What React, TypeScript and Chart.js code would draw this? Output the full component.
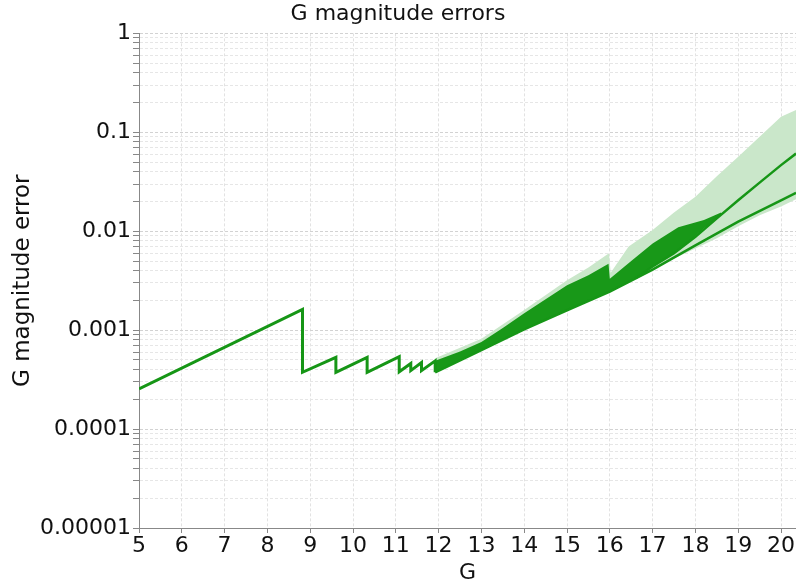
import React, { useEffect, useRef } from "react";
import { Chart, registerables } from "chart.js";

Chart.register(...registerables);

// Bright-star sawtooth (single line of errors vs G)
const sawG = [5, 8.82, 8.82, 9.6, 9.6, 10.33, 10.33, 11.08, 11.08, 11.35, 11.35, 11.6, 11.6, 11.92, 11.92];
const sawErr = [2.55e-4, 1.62e-3, 3.75e-4, 5.3e-4, 3.75e-4, 5.3e-4, 3.75e-4, 5.4e-4, 3.8e-4, 4.6e-4, 3.9e-4, 4.7e-4, 3.9e-4, 4.9e-4, 3.75e-4];

// Lower model curve
const lowerG = [11.92, 13, 14, 15, 16, 17, 18, 19, 20, 20.35];
const lowerErr = [3.75e-4, 6.3e-4, 1.02e-3, 1.59e-3, 2.45e-3, 4.1e-3, 7.2e-3, 0.0125, 0.0205, 0.0245];

// Upper model curve
const upperG = [16.6, 17, 17.5, 18, 18.5, 19, 19.5, 20, 20.35];
const upperErr = [3.35e-3, 4.4e-3, 6.0e-3, 8.8e-3, 0.0135, 0.0206, 0.031, 0.0466, 0.061];

// Dense (dark) scatter envelope
const darkG = [11.92, 12.5, 13, 13.5, 14, 14.5, 15, 15.5, 15.97, 16.0, 16.5, 17, 17.6, 18.2, 18.6];
const darkTop = [4.9e-4, 6.1e-4, 7.6e-4, 1.05e-3, 1.48e-3, 2.05e-3, 2.85e-3, 3.6e-3, 4.7e-3, 3.3e-3, 5.0e-3, 7.5e-3, 0.011, 0.013, 0.0155];
const darkBottom = [3.75e-4, 4.9e-4, 6.3e-4, 8.0e-4, 1.02e-3, 1.27e-3, 1.59e-3, 1.97e-3, 2.4e-3, 2.45e-3, 3.2e-3, 4.4e-3, 6.3e-3, 0.0107, 0.0145];

// Sparse (light) scatter envelope
const lightG = [11.92, 13, 14, 15, 15.5, 15.98, 16.02, 16.44, 17, 17.5, 18, 18.5, 19, 19.5, 20, 20.35];
const lightTop = [5.2e-4, 8.2e-4, 1.6e-3, 3.2e-3, 4.3e-3, 6.0e-3, 3.8e-3, 7.0e-3, 0.0103, 0.0155, 0.0223, 0.036, 0.0565, 0.09, 0.144, 0.168];
const lightBottom = [3.75e-4, 6.3e-4, 1.02e-3, 1.59e-3, 1.97e-3, 2.4e-3, 2.45e-3, 3.0e-3, 4.0e-3, 5.3e-3, 6.7e-3, 8.5e-3, 0.0112, 0.0145, 0.0178, 0.021];

// Axis ticks
const yDecades = [1e-5, 1e-4, 1e-3, 1e-2, 1e-1];
const yMultipliers = [1, 2, 3, 4, 5, 6, 7, 8, 9];
const yTickLabels = ["0.00001", "0.0001", "0.001", "0.01", "0.1", "1"];
const xMin = 5;
const xMax = 20.35;

const FONT = "'DejaVu Sans', 'Lucida Grande', sans-serif";

const pts = (xs: number[], ys: number[]) => xs.map((x, i) => ({ x, y: ys[i] }));

const decadeIndex = (v: number) => {
  const l = Math.log10(v);
  return Math.abs(l - Math.round(l)) < 1e-9 ? Math.round(l) + 5 : -1;
};

export default function App() {
  const ref = useRef<HTMLCanvasElement | null>(null);

  useEffect(() => {
    if (!ref.current) return;
    const yTicks: number[] = [];
    yDecades.forEach((d) => yMultipliers.forEach((m) => yTicks.push(+(d * m).toPrecision(6))));
    yTicks.push(1);

    const light = "rgb(202,231,202)";
    const dark = "rgb(24,152,24)";
    const lineCol = "rgb(22,150,22)";

    const chart = new Chart(ref.current, {
      type: "line",
      data: {
        datasets: [
          { data: pts(lightG, lightTop), fill: "+1", backgroundColor: light, borderWidth: 0, pointRadius: 0, order: 10 },
          { data: pts(lightG, lightBottom), fill: false, borderWidth: 0, pointRadius: 0, order: 11 },
          { data: pts(darkG, darkTop), fill: "+1", backgroundColor: dark, borderWidth: 0, pointRadius: 0, order: 8 },
          { data: pts(darkG, darkBottom), fill: false, borderWidth: 0, pointRadius: 0, order: 9 },
          { data: pts(sawG, sawErr), fill: false, borderColor: lineCol, borderWidth: 3, pointRadius: 0, order: 2 },
          { data: pts(lowerG, lowerErr), fill: false, borderColor: lineCol, borderWidth: 2.5, pointRadius: 0, order: 1 },
          { data: pts(upperG, upperErr), fill: false, borderColor: lineCol, borderWidth: 2.5, pointRadius: 0, order: 1 },
        ],
      },
      options: {
        animation: false,
        responsive: false,
        events: [],
        layout: { padding: 0 },
        plugins: {
          legend: { display: false },
          tooltip: { enabled: false },
          title: {
            display: true,
            text: "G magnitude errors",
            color: "#111",
            font: { family: FONT, size: 22, weight: "normal" },
            padding: { top: 1, bottom: 6 },
          },
        },
        scales: {
          x: {
            type: "linear",
            min: xMin,
            max: xMax,
            afterFit: (s: any) => {
              s.height = 56;
            },
            ticks: {
              stepSize: 1,
              includeBounds: false,
              autoSkip: false,
              maxRotation: 0,
              padding: 0,
              color: "#111",
              font: { family: FONT, size: 22 },
            },
            grid: {
              color: "#e2e2e2",
              tickLength: 5,
              tickColor: "#888",
            },
            border: { color: "#888", width: 1, dash: [3, 2] },
            title: {
              display: true,
              text: "G",
              color: "#111",
              font: { family: FONT, size: 22, lineHeight: 1 },
              padding: 0,
            },
          },
          y: {
            type: "logarithmic",
            min: 1e-5,
            max: 1,
            afterFit: (s: any) => {
              s.width = 139;
            },
            afterBuildTicks: (s: any) => {
              s.ticks = yTicks.map((v) => ({ value: v, major: decadeIndex(v) >= 0 }));
            },
            ticks: {
              autoSkip: false,
              padding: 2,
              color: "#111",
              font: { family: FONT, size: 22 },
              callback: (v: any) => {
                const i = decadeIndex(Number(v));
                return i >= 0 ? yTickLabels[i] : "";
              },
            },
            grid: {
              color: (c: any) => (c.tick && decadeIndex(c.tick.value) >= 0 ? "#d2d2d2" : "#e6e6e6"),
              tickLength: 6,
              tickColor: "#888",
            },
            border: { color: "#888", width: 1, dash: [3, 2] },
            title: {
              display: true,
              text: "G magnitude error",
              color: "#111",
              font: { family: FONT, size: 23 },
              padding: { top: 9, bottom: 0 },
            },
          },
        },
      },
    } as any);
    return () => chart.destroy();
  }, []);

  return (
    <div style={{ position: "fixed", left: 0, top: 0, width: 796, height: 584, background: "#fff" }}>
      <canvas ref={ref} width={796} height={584} style={{ display: "block" }} />
    </div>
  );
}
